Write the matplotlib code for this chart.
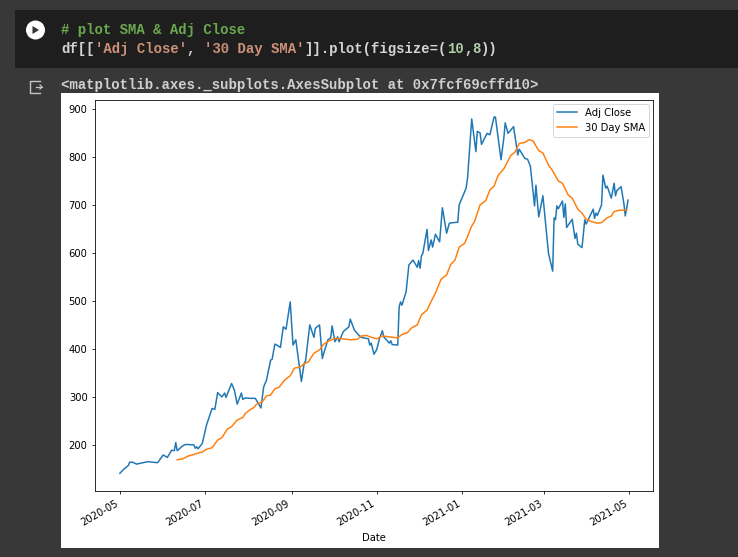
import matplotlib
matplotlib.use("Agg")
import matplotlib.pyplot as plt
import matplotlib.dates as mdates
from matplotlib.patches import Rectangle, Circle, Polygon
import pandas as pd

W, H = 738, 557
START = pd.Timestamp("2020-05-01")

# days since START
close_days = [0, 3, 6, 7, 9, 12, 15, 20, 27, 31, 34, 37, 39, 40, 41, 45, 47, 53, 54, 55, 56, 59,
              62, 66, 68, 70, 73, 75, 76, 80, 82, 84, 87, 88, 90, 93, 97, 99, 101, 103, 105, 108,
              109, 111, 113, 115, 117, 119, 122, 124, 126, 130, 132, 133, 136, 139, 140, 143, 145,
              146, 149, 151, 152, 154, 156, 157, 160, 164, 165, 168, 171, 173, 178, 179, 180, 182,
              184, 186, 188, 189, 193, 194, 195, 199, 200, 201, 202, 205, 207, 210, 213, 214, 215,
              216, 217, 220, 221, 223, 224, 226, 229, 231, 234, 236, 242, 243, 248, 249, 252, 255,
              256, 258, 259, 263, 265, 268, 269, 273, 275, 276, 278, 282, 285, 286, 290, 292, 294,
              297, 298, 300, 303, 307, 310, 311, 312, 313, 314, 317, 318, 319, 320, 324, 326, 327,
              328, 331, 333, 334, 339, 340, 341, 342, 345, 346, 348, 349, 352, 354, 355, 356, 359,
              361, 362, 364]
close_vals = [142, 151, 158, 165, 165, 161, 163, 166, 164, 180, 175, 190, 189, 206, 189, 199, 202,
              201, 194, 197, 193, 204, 242, 277, 275, 310, 301, 309, 300, 329, 315, 286, 309, 296,
              299, 298, 298, 288, 278, 322, 336, 378, 379, 411, 408, 404, 447, 442, 499, 409, 420,
              333, 371, 376, 451, 425, 444, 451, 381, 392, 420, 424, 449, 416, 426, 416, 437, 447,
              463, 440, 430, 425, 422, 409, 413, 390, 400, 423, 439, 426, 413, 418, 410, 409, 488,
              499, 492, 520, 576, 586, 571, 585, 569, 595, 600, 650, 606, 628, 613, 640, 624, 695,
              642, 663, 665, 701, 736, 756, 880, 812, 854, 851, 827, 850, 847, 884, 884, 795, 840,
              872, 850, 864, 805, 817, 798, 796, 782, 699, 742, 676, 720, 600, 563, 674, 670, 699,
              693, 709, 675, 703, 654, 671, 631, 642, 619, 612, 670, 661, 692, 673, 684, 679, 701,
              763, 736, 740, 715, 746, 720, 731, 739, 704, 678, 711]

sma_days = [41, 45, 49, 53, 56, 59, 62, 66, 70, 73, 77, 80, 84, 88, 90, 93, 96, 98, 102, 105, 108,
            111, 114, 118, 122, 125, 129, 132, 135, 139, 143, 146, 150, 154, 160, 165, 170, 173,
            177, 179, 184, 188, 193, 199, 202, 206, 209, 213, 216, 220, 224, 226, 230, 234, 237,
            240, 243, 247, 252, 254, 258, 262, 265, 268, 271, 275, 280, 283, 286, 290, 293, 296,
            300, 303, 307, 310, 314, 317, 321, 324, 328, 331, 334, 338, 342, 345, 349, 352, 354,
            358, 363]
sma_vals = [170, 172, 178, 181, 184, 186, 192, 195, 211, 216, 234, 239, 253, 258, 267, 274, 279,
            286, 291, 303, 305, 318, 321, 336, 345, 361, 363, 370, 374, 392, 399, 411, 418, 423,
            422, 420, 421, 428, 429, 426, 422, 428, 426, 424, 431, 435, 445, 451, 472, 482, 506,
            517, 546, 555, 577, 586, 613, 621, 657, 666, 701, 710, 732, 740, 763, 776, 804, 811,
            829, 831, 837, 834, 814, 809, 784, 772, 751, 746, 722, 715, 692, 684, 671, 666, 663,
            664, 674, 678, 687, 690, 690]

close_dates = START + pd.to_timedelta(close_days, unit="D")
sma_dates = START + pd.to_timedelta(sma_days, unit="D")

# notebook code lines, split up by syntax colour
COMMENT = "# plot SMA & Adj Close"
code_parts = [("df[[", "#d4d4d4"), ("'Adj Close'", "#ce9178"), (", ", "#d4d4d4"),
              ("'30 Day SMA'", "#ce9178"), ("]].plot(figsize=(", "#d4d4d4"), ("10", "#b5cea8"),
              (",", "#d4d4d4"), ("8", "#b5cea8"), ("))", "#d4d4d4")]
OUTPUT = "<matplotlib.axes._subplots.AxesSubplot at 0x7fcf69cffd10>"

fig = plt.figure(figsize=(W / 100, H / 100), dpi=100, facecolor="#383838")

# notebook chrome, drawn in pixel coordinates
bg = fig.add_axes([0, 0, 1, 1], zorder=0)
bg.set_xlim(0, W)
bg.set_ylim(H, 0)
bg.axis("off")
bg.add_patch(Rectangle((15, 10), W - 15, 58, color="#1e1e1e", lw=0))
bg.add_patch(Rectangle((61, 93), 598, 455, color="white", lw=0))
bg.add_patch(Circle((35.5, 30), 9.5, color="white", lw=0))
bg.add_patch(Polygon([(32.5, 26), (32.5, 34), (39, 30)], color="#333333", lw=0))
# output icon
bg.plot([40, 30, 30, 40], [81, 81, 93, 93], color="#c4c4c4", lw=1.0)
bg.plot([36, 42], [87, 87], color="#c4c4c4", lw=0.9)
bg.plot([40, 42, 40], [85, 87, 89], color="#c4c4c4", lw=0.9)

CHAR_W = 8.4
mono = dict(family="Liberation Mono", fontsize=10.08, va="center", ha="left", fontweight="bold")
bg.text(61, 30, COMMENT, color="#6aa84f", **mono)
cx = 61
for part, col in code_parts:
    bg.text(cx, 49, part, color=col, **mono)
    cx += CHAR_W * len(part)
bg.text(61, 85, OUTPUT, color="#d0d0d0", **mono)

# the chart itself
ax_l, ax_r, ax_t, ax_b = 94.5, 652.5, 100, 491
ax = fig.add_axes([ax_l / W, 1 - ax_b / H, (ax_r - ax_l) / W, (ax_b - ax_t) / H], zorder=1)
ax.plot(close_dates, close_vals, color="#1f77b4", lw=1.08, label="Adj Close")
ax.plot(sma_dates, sma_vals, color="#ff7f0e", lw=1.08, label="30 Day SMA")

ax.set_xlim(START - pd.Timedelta(days=18.2), START + pd.Timedelta(days=381.5))
ax.set_ylim(105, 919.5)
ax.set_yticks([200, 300, 400, 500, 600, 700, 800, 900])
ax.xaxis.set_major_locator(mdates.MonthLocator(bymonth=[1, 3, 5, 7, 9, 11]))
ax.xaxis.set_major_formatter(mdates.DateFormatter("%Y-%m"))
ax.tick_params(labelsize=7.2, width=0.58, length=2.5, pad=2.5)
for lab in ax.get_xticklabels():
    lab.set_rotation(30)
    lab.set_ha("right")
for sp in ax.spines.values():
    sp.set_linewidth(0.58)
ax.set_xlabel("Date", fontsize=7.2, labelpad=2)
ax.xaxis.set_label_coords(0.5, -0.108)
ax.legend(loc="upper right", fontsize=7.2, borderaxespad=0.36, frameon=True)
ax.get_legend().get_frame().set_linewidth(0.7)

fig.savefig("out.png", dpi=100, facecolor=fig.get_facecolor())
